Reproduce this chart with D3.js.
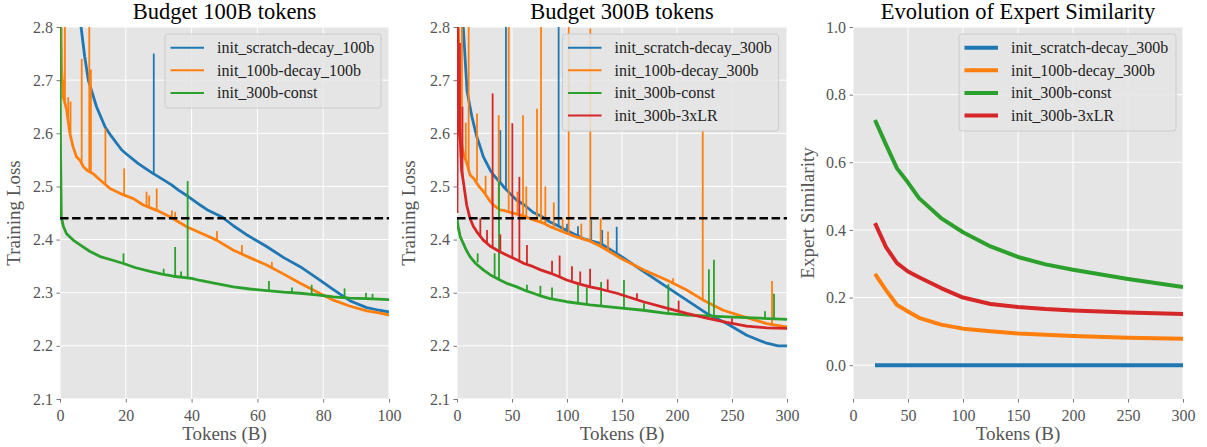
<!DOCTYPE html>
<html><head><meta charset="utf-8">
<script src="https://cdn.jsdelivr.net/npm/d3@7"></script>
<style>
body{margin:0;background:#fff;}
svg{display:block;}
text{font-family:"Liberation Serif","Times New Roman",Times,serif;}
</style>
</head><body>
<svg id="c" width="1207" height="447"></svg>
<script>
// ---------- Panel 1: Budget 100B tokens ----------
const p1Titles = ["init_scratch-decay_100b", "init_100b-decay_100b", "init_300b-const"];
const p1XTicks = [0, 20, 40, 60, 80, 100];
const lossYTicks = [2.1, 2.2, 2.3, 2.4, 2.5, 2.6, 2.7, 2.8];
const refLoss = 2.44;

const p1Scratch = [[5.5,2.86],[6.4,2.80],[7.5,2.745],[8.6,2.70],[10,2.672],[11.1,2.65],[13.7,2.612],[15.2,2.598],[18.7,2.569],[20,2.562],[23.8,2.543],[28.1,2.525],[30,2.518],[33.9,2.503],[36,2.493],[39,2.481],[42.6,2.465],[45,2.455],[49.1,2.443],[52.7,2.426],[57,2.408],[62.8,2.387],[68,2.366],[73,2.349],[78,2.328],[83.1,2.306],[88.1,2.285],[93.2,2.272],[97,2.267],[100,2.264]];
const p1ScratchSpikes = [[28.5,2.524,2.75]];

const p1From100 = [[0.2,2.85],[0.5,2.72],[1,2.668],[2,2.645],[3,2.60],[4,2.574],[5,2.556],[6.1,2.549],[7.1,2.537],[8.3,2.53],[10.1,2.524],[12.2,2.512],[15.2,2.496],[19.3,2.484],[22.3,2.477],[25.3,2.465],[29.4,2.455],[33.4,2.443],[38.5,2.424],[42.6,2.413],[47.6,2.399],[52.7,2.38],[57.7,2.366],[62.8,2.352],[68,2.335],[73,2.318],[78,2.302],[83.1,2.286],[88,2.275],[93.2,2.266],[97,2.262],[100,2.258]];
const p1From100Spikes = [[1.2,2.67,2.70],[1.5,2.66,2.85],[2.5,2.63,2.668],[3.2,2.6,2.66],[6.6,2.545,2.74],[8.9,2.53,2.85],[9.4,2.528,2.72],[13.8,2.505,2.609],[19.5,2.483,2.534],[26.3,2.462,2.49],[27.1,2.46,2.483],[29.4,2.455,2.496],[34,2.44,2.455],[35,2.437,2.452],[47.7,2.399,2.416],[55.3,2.372,2.39],[64.4,2.347,2.358]];

const p1Const = [[0,2.85],[0.15,2.57],[0.4,2.443],[1,2.425],[2,2.411],[4,2.399],[6.1,2.39],[9,2.378],[12.2,2.368],[15.5,2.362],[19.3,2.355],[23,2.347],[27.4,2.34],[31,2.335],[34.4,2.331],[40,2.327],[42.6,2.323],[47.6,2.317],[52.7,2.311],[57.7,2.307],[62.8,2.304],[68,2.301],[73,2.299],[78,2.296],[83.1,2.292],[88,2.29],[93.2,2.289],[100,2.287]];
const p1ConstSpikes = [[19.3,2.355,2.374],[31.5,2.334,2.345],[35,2.331,2.386],[36.8,2.329,2.34],[38.8,2.327,2.51],[63.5,2.304,2.322],[70.5,2.3,2.31],[76.5,2.297,2.315],[86.5,2.29,2.308],[93,2.289,2.3],[95,2.288,2.298]];

// ---------- Panel 2: Budget 300B tokens ----------
const p2Titles = ["init_scratch-decay_300b", "init_100b-decay_300b", "init_300b-const", "init_300b-3xLR"];
const p2XTicks = [0, 50, 100, 150, 200, 250, 300];

const p2Scratch = [[5,2.86],[5.7,2.8],[9.1,2.68],[11.8,2.65],[13.6,2.631],[17.9,2.594],[21.2,2.574],[23.9,2.556],[30.3,2.53],[33,2.522],[39.4,2.507],[42.1,2.5],[48.5,2.486],[54.3,2.474],[60.6,2.466],[69.4,2.451],[75.8,2.445],[84.5,2.433],[90.9,2.427],[99.7,2.417],[114.8,2.402],[130,2.393],[149.7,2.368],[169.4,2.34],[190.6,2.311],[208.8,2.286],[227,2.261],[245.2,2.242],[263.4,2.22],[281.5,2.205],[292,2.2],[300,2.2]];
const p2ScratchSpikes = [[39.4,2.507,2.606],[44.5,2.497,2.85],[92.4,2.425,2.85],[100,2.417,2.43],[110,2.407,2.425],[122,2.398,2.437],[132,2.392,2.418],[145.2,2.372,2.424]];

const p2From100 = [[0.5,2.85],[1.2,2.8],[2.7,2.625],[4.5,2.575],[6,2.56],[9.1,2.543],[11.8,2.522],[15.2,2.515],[20,2.5],[24.2,2.49],[30,2.472],[33.3,2.465],[39,2.456],[42.4,2.455],[48.5,2.451],[57.6,2.446],[60.3,2.444],[69.7,2.437],[78.5,2.431],[84.8,2.424],[99.7,2.412],[110,2.404],[120.9,2.397],[130,2.388],[149.7,2.364],[169.4,2.343],[190.6,2.324],[208.8,2.305],[224,2.286],[242,2.267],[260.3,2.255],[281.5,2.242],[298,2.236],[300,2.236]];
const p2From100Spikes = [[4.5,2.57,2.85],[8,2.55,2.62],[10.6,2.53,2.85],[18.2,2.51,2.637],[26,2.485,2.52],[31.8,2.468,2.524],[37.9,2.457,2.634],[47,2.452,2.85],[55,2.447,2.49],[60,2.444,2.634],[63,2.442,2.5],[72.7,2.435,2.646],[76.4,2.433,2.85],[80.3,2.429,2.5],[88,2.422,2.47],[96,2.414,2.44],[101.5,2.411,2.85],[113,2.402,2.43],[121.2,2.397,2.797],[130.6,2.388,2.44],[137.3,2.38,2.415],[196.4,2.318,2.327],[223.4,2.287,2.606],[286.4,2.24,2.322]];

const p2Const = [[0,2.44],[1,2.425],[3,2.405],[5.7,2.393],[8.5,2.38],[11.8,2.368],[17,2.355],[23.9,2.343],[30,2.334],[39,2.324],[46,2.317],[54.3,2.311],[61,2.305],[69.4,2.299],[76,2.294],[84.5,2.289],[99.7,2.283],[120.9,2.277],[145.2,2.272],[169.4,2.267],[190.6,2.261],[208.8,2.258],[230,2.256],[251.2,2.254],[275.5,2.252],[300,2.25]];
const p2ConstSpikes = [[18.8,2.357,2.374],[34.2,2.33,2.374],[38.2,2.325,2.509],[63.6,2.304,2.315],[75.8,2.295,2.313],[86.4,2.289,2.31],[110,2.28,2.32],[118,2.278,2.31],[131,2.275,2.32],[151.8,2.271,2.324],[170,2.267,2.28],[192.1,2.261,2.316],[229,2.256,2.344],[233.6,2.256,2.362],[280,2.252,2.265],[288.2,2.251,2.298]];

const p2LR = [[0,2.45],[0.4,2.85],[1,2.7],[2,2.62],[3,2.587],[4.2,2.53],[5.7,2.51],[8.8,2.465],[11.8,2.44],[14.8,2.425],[17.9,2.415],[23.9,2.399],[30,2.388],[39,2.377],[46,2.37],[54.3,2.362],[61,2.355],[69.4,2.349],[76,2.343],[84.5,2.337],[92,2.331],[99.7,2.324],[110,2.317],[120.9,2.311],[130,2.307],[145.2,2.299],[169.4,2.283],[190.6,2.271],[208.8,2.261],[227,2.252],[245.2,2.244],[263.4,2.237],[281.5,2.234],[300,2.233]];
const p2LRSpikes = [[1.5,2.6,2.74],[2.7,2.58,2.77],[5,2.52,2.65],[21.2,2.405,2.44],[27.3,2.393,2.418],[32.4,2.386,2.675],[39.4,2.377,2.41],[50.3,2.365,2.619],[56.7,2.359,2.518],[63.6,2.353,2.39],[86.4,2.335,2.36],[93.3,2.33,2.37],[104.5,2.321,2.35],[112,2.316,2.34],[121,2.311,2.345],[137,2.303,2.325],[163.6,2.287,2.299],[201.5,2.265,2.285],[250,2.242,2.252]];

// ---------- Panel 3: Evolution of Expert Similarity ----------
const p3XTicks = [0, 50, 100, 150, 200, 250, 300];
const simYTicks = [0.0, 0.2, 0.4, 0.6, 0.8, 1.0];
const simTokens = [20, 30, 40, 50, 60, 80, 100, 125, 150, 175, 200, 250, 300];
const simScratch = [0, 0, 0, 0, 0, 0, 0, 0, 0, 0, 0, 0, 0];
const simFrom100 = [0.27, 0.222, 0.178, 0.159, 0.14, 0.12, 0.108, 0.10, 0.094, 0.09, 0.086, 0.081, 0.078];
const simConst = [0.725, 0.652, 0.582, 0.54, 0.494, 0.435, 0.393, 0.351, 0.32, 0.298, 0.282, 0.255, 0.231];
const simLR = [0.42, 0.349, 0.302, 0.277, 0.26, 0.228, 0.2, 0.181, 0.172, 0.166, 0.162, 0.156, 0.151];

const C = {blue:"#1f77b4", orange:"#ff7f0e", green:"#2ca02c", red:"#d62728"};
const svg = d3.select("#c");
const TY0 = 27, TY1 = 399;

function panel(o, idx) {
  const x = d3.scaleLinear().domain(o.xDomain).range([o.x0, o.x1]);
  const y = d3.scaleLinear().domain(o.yDomain).range([TY1, TY0]);
  const g = svg.append("g");
  g.append("rect").attr("x", o.x0).attr("y", TY0).attr("width", o.x1 - o.x0).attr("height", TY1 - TY0).attr("fill", "#e5e5e5");
  // grid
  g.selectAll(".gx").data(o.xTicks).enter().append("line")
    .attr("x1", d => x(d)).attr("x2", d => x(d)).attr("y1", TY0).attr("y2", TY1)
    .attr("stroke", "#fff").attr("stroke-width", 1);
  g.selectAll(".gy").data(o.yTicks).enter().append("line")
    .attr("x1", o.x0).attr("x2", o.x1).attr("y1", d => y(d)).attr("y2", d => y(d))
    .attr("stroke", "#fff").attr("stroke-width", 1);
  // axes
  const xa = g.append("g").attr("transform", `translate(0,${TY1})`)
    .call(d3.axisBottom(x).tickValues(o.xTicks).tickFormat(d3.format("d")).tickSize(3.5).tickPadding(6));
  const ya = g.append("g").attr("transform", `translate(${o.x0},0)`)
    .call(d3.axisLeft(y).tickValues(o.yTicks).tickFormat(d3.format(".1f")).tickSize(3.5).tickPadding(3.5));
  [xa, ya].forEach(a => {
    a.select(".domain").remove();
    a.selectAll(".tick line").attr("stroke", "#555").attr("stroke-width", 0.8);
    a.selectAll(".tick text").attr("fill", "#555").style("font-size", "16px")
      .style("font-family", '"Liberation Serif",serif');
  });
  xa.selectAll(".tick text").attr("dy", "0.75em");
  // clip
  const cid = "clip" + idx;
  svg.append("clipPath").attr("id", cid).append("rect")
    .attr("x", o.x0).attr("y", TY0).attr("width", o.x1 - o.x0).attr("height", TY1 - TY0);
  const plot = g.append("g").attr("clip-path", `url(#${cid})`);
  const line = d3.line().x(d => x(d[0])).y(d => y(d[1]));
  o.series.forEach(s => {
    plot.append("path").datum(s.data).attr("d", line).attr("fill", "none")
      .attr("stroke", s.color).attr("stroke-width", s.width).attr("stroke-linejoin", "round");
    if (s.spikes) {
      plot.selectAll(null).data(s.spikes).enter().append("line")
        .attr("x1", d => x(d[0])).attr("x2", d => x(d[0]))
        .attr("y1", d => y(d[1])).attr("y2", d => y(d[2]))
        .attr("stroke", s.color).attr("stroke-width", 1.8);
    }
  });
  if (o.ref !== undefined) {
    plot.append("line").attr("x1", o.x0).attr("x2", o.x1).attr("y1", y(o.ref)).attr("y2", y(o.ref))
      .attr("stroke", "#000").attr("stroke-width", 2.4).attr("stroke-dasharray", "8.5,3.6");
  }
  // title
  svg.append("text").attr("x", (o.x0 + o.x1) / 2).attr("y", 19).attr("text-anchor", "middle")
    .style("font-size", "22.5px").attr("fill", "#000").text(o.title);
  svg.append("text").attr("x", (o.x0 + o.x1) / 2).attr("y", 440).attr("text-anchor", "middle")
    .style("font-size", "19px").attr("fill", "#555").text(o.xlabel);
  svg.append("text").attr("transform", `translate(${o.ylabelX},${(TY0 + TY1) / 2}) rotate(-90)`)
    .attr("text-anchor", "middle").style("font-size", "19px").attr("fill", "#555").text(o.ylabel);
  // legend
  const L = o.legend;
  const lg = svg.append("g");
  lg.append("rect").attr("x", L.x).attr("y", 34).attr("width", L.w).attr("height", L.h)
    .attr("rx", 3).attr("fill", "#e5e5e5").attr("fill-opacity", 0.85).attr("stroke", "#cccccc").attr("stroke-width", 1);
  o.series.forEach((s, i) => {
    const cy = 47.7 + i * 22.6;
    lg.append("line").attr("x1", L.x + 5.5).attr("x2", L.x + 39).attr("y1", cy).attr("y2", cy)
      .attr("stroke", s.color).attr("stroke-width", L.lw);
    lg.append("text").attr("x", L.x + 52).attr("y", cy + 5.5).style("font-size", "16px")
      .attr("fill", "#222").text(s.name);
  });
}

panel({
  x0: 60, x1: 389, xDomain: [0, 100], yDomain: [2.1, 2.8], xTicks: p1XTicks, yTicks: lossYTicks,
  title: "Budget 100B tokens", xlabel: "Tokens (B)", ylabel: "Training Loss", ylabelX: 19.5, ref: refLoss,
  legend: {x: 165, w: 216, h: 74, lw: 2},
  series: [
    {name: p1Titles[0], color: C.blue, data: p1Scratch, spikes: p1ScratchSpikes, width: 2.8},
    {name: p1Titles[1], color: C.orange, data: p1From100, spikes: p1From100Spikes, width: 2.8},
    {name: p1Titles[2], color: C.green, data: p1Const, spikes: p1ConstSpikes, width: 2.8}
  ]
}, 1);

panel({
  x0: 457, x1: 787, xDomain: [0, 300], yDomain: [2.1, 2.8], xTicks: p2XTicks, yTicks: lossYTicks,
  title: "Budget 300B tokens", xlabel: "Tokens (B)", ylabel: "Training Loss", ylabelX: 415, ref: refLoss,
  legend: {x: 562.5, w: 216, h: 97, lw: 2},
  series: [
    {name: p2Titles[0], color: C.blue, data: p2Scratch, spikes: p2ScratchSpikes, width: 2.8},
    {name: p2Titles[1], color: C.orange, data: p2From100, spikes: p2From100Spikes, width: 2.8},
    {name: p2Titles[2], color: C.green, data: p2Const, spikes: p2ConstSpikes, width: 2.8},
    {name: p2Titles[3], color: C.red, data: p2LR, spikes: p2LRSpikes, width: 2.8}
  ]
}, 2);

const zipSim = vals => simTokens.map((t, i) => [t, vals[i]]);
panel({
  x0: 853, x1: 1183, xDomain: [0, 300], yDomain: [-0.1, 1.0], xTicks: p3XTicks, yTicks: simYTicks,
  title: "Evolution of Expert Similarity", xlabel: "Tokens (B)", ylabel: "Expert Similarity", ylabelX: 813.5,
  legend: {x: 959, w: 217, h: 97, lw: 4},
  series: [
    {name: p2Titles[0], color: C.blue, data: zipSim(simScratch), width: 4},
    {name: p2Titles[1], color: C.orange, data: zipSim(simFrom100), width: 4},
    {name: p2Titles[2], color: C.green, data: zipSim(simConst), width: 4},
    {name: p2Titles[3], color: C.red, data: zipSim(simLR), width: 4}
  ]
}, 3);
</script>
</body></html>
